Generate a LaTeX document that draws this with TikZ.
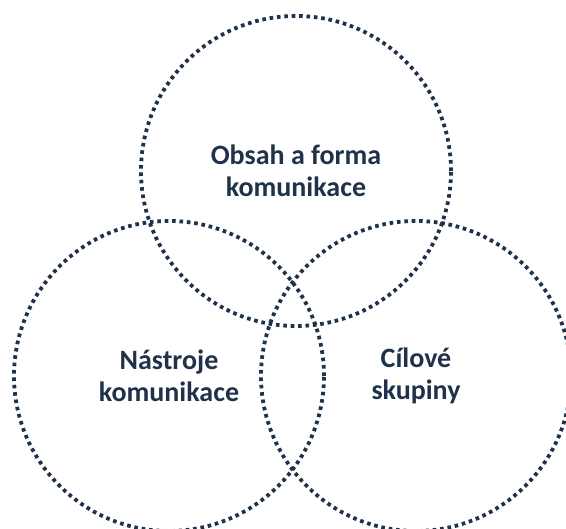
\documentclass[tikz,border=0pt]{standalone}
\usepackage{fontspec}
\setmainfont{Carlito}
\definecolor{navy}{RGB}{31,50,73}
\tikzset{
  venn/.style={circle, draw=navy, line width=3.8pt, dash pattern=on 3.6pt off 3.8pt,
    minimum size=310pt, inner sep=0pt, text=navy, align=center,
    font=\fontsize{28}{32.5}\selectfont\bfseries}
}
\begin{document}
\begin{tikzpicture}[x=1pt,y=1pt]
  \useasboundingbox (0,0) rectangle (566,529);
  \node[venn] (content) at (296,358) {Obsah a forma\\komunikace};
  \node[venn] (tools)   at (169,153) {Nástroje\\komunikace};
  \node[venn] (groups)  at (416,153) {Cílové\\skupiny};
\end{tikzpicture}
\end{document}
